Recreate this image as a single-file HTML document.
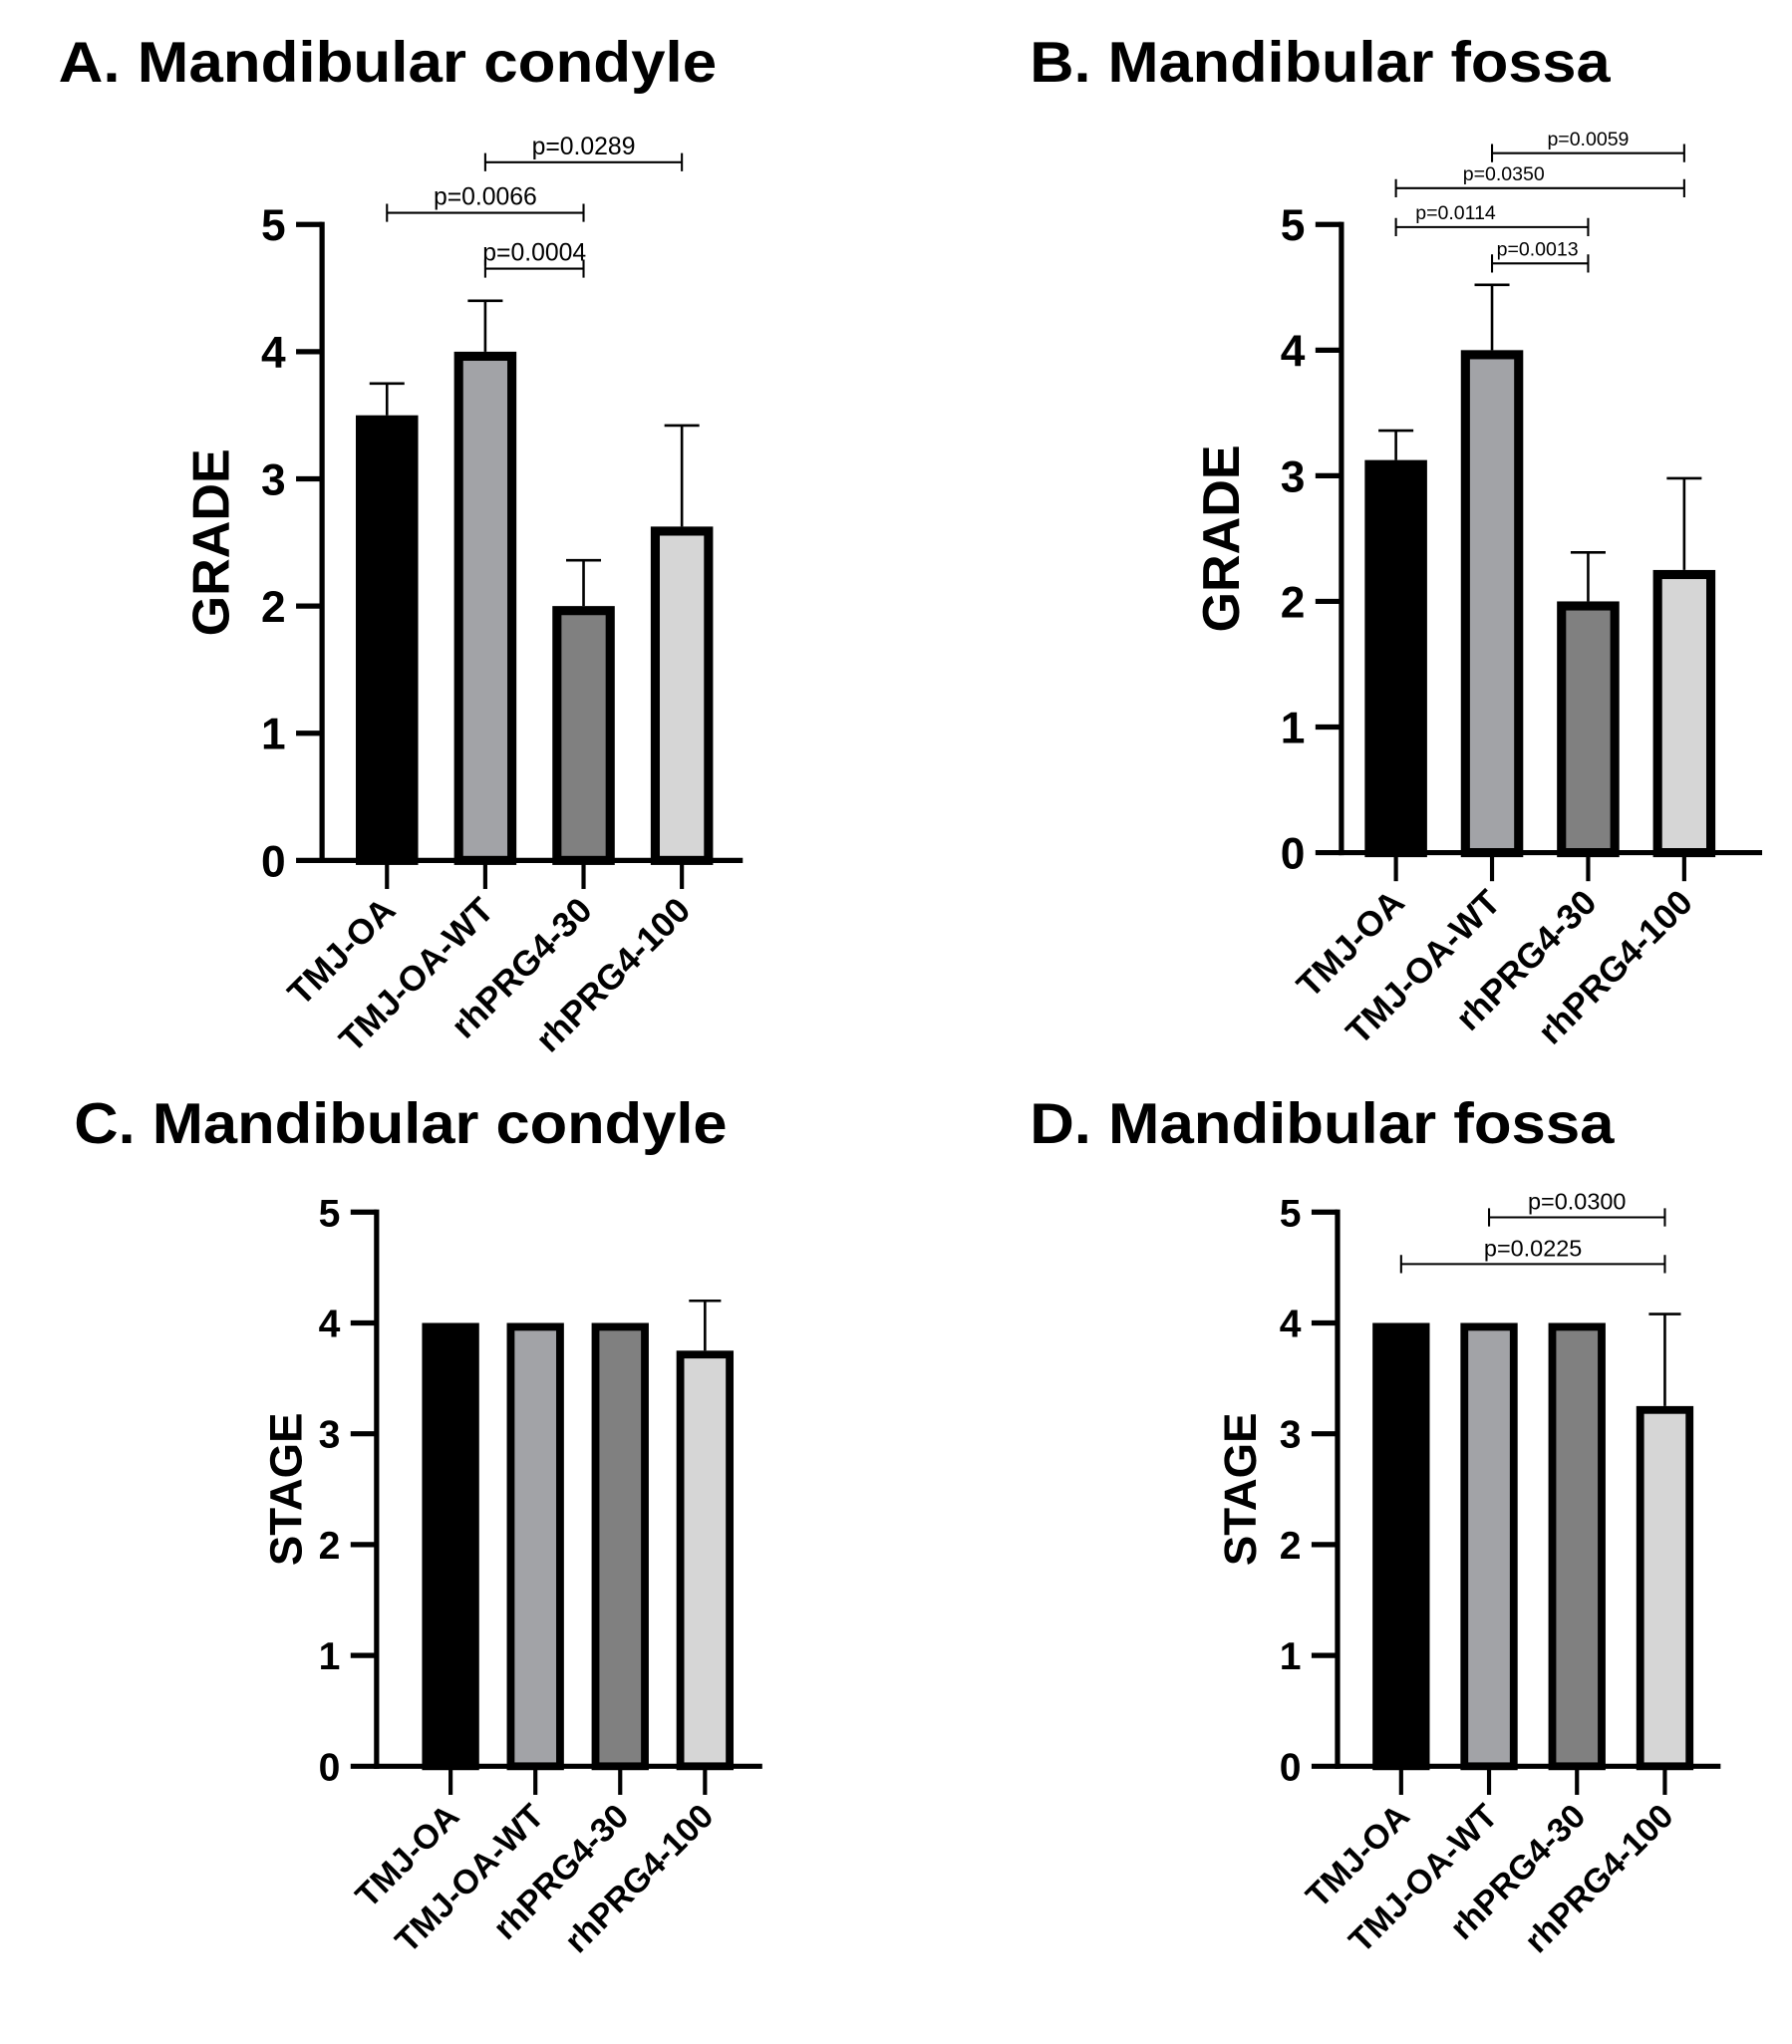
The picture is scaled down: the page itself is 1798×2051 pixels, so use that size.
<!DOCTYPE html>
<html><head><meta charset="utf-8">
<style>
html,body{margin:0;padding:0;background:#fff;}
svg{display:block;}
text{font-family:"Liberation Sans",sans-serif;}
</style></head>
<body>
<svg id="fig" width="1798" height="2051" viewBox="0 0 1380 1575" preserveAspectRatio="none" xmlns="http://www.w3.org/2000/svg">
<rect width="1380" height="1575" fill="#fff"/>
</svg>
<script>
const categories = ["TMJ-OA","TMJ-OA-WT","rhPRG4-30","rhPRG4-100"];
const colors = ["#000000","#a2a3a7","#808080","#d6d6d6"];
const yTicks = [0,1,2,3,4,5];
const gradeCondyleMeans = [3.5,4.0,2.0,2.625];
const gradeCondyleErr = [3.75,4.4,2.36,3.42];
const gradeFossaMeans = [3.125,4.0,2.0,2.25];
const gradeFossaErr = [3.36,4.52,2.39,2.98];
const stageCondyleMeans = [4,4,4,3.75];
const stageCondyleErr = [4,4,4,4.2];
const stageFossaMeans = [4,4,4,3.25];
const stageFossaErr = [4,4,4,4.08];
const pLabelsA = ["p=0.0289","p=0.0066","p=0.0004"];
const pPairsA = [[1,3],[0,2],[1,2]];
const pLabelsB = ["p=0.0059","p=0.0350","p=0.0114","p=0.0013"];
const pPairsB = [[1,3],[0,3],[0,2],[1,2]];
const pLabelsD = ["p=0.0300","p=0.0225"];
const pPairsD = [[1,3],[0,3]];

const NS="http://www.w3.org/2000/svg";
const svg=document.getElementById('fig');
function el(tag,attrs,parent){const e=document.createElementNS(NS,tag);for(const k in attrs)e.setAttribute(k,attrs[k]);(parent||svg).appendChild(e);return e;}

function panel(cfg){
  const g=el('g',{});
  
  
  const t=el('text',{x:cfg.titleX,y:cfg.titleY,'font-size':44,'font-weight':'bold',textLength:cfg.titleW,lengthAdjust:'spacingAndGlyphs'},g);
  t.textContent=cfg.title;
  
  
  const y=v=>cfg.y0-(cfg.y0-cfg.y5)*v/5;
  const x=i=>cfg.xc0+i*cfg.step;
  cfg.means.forEach((m,i)=>{
    const e=cfg.errs[i];
    if(e>m+0.01){
      const l=el('line',{x1:x(i),x2:x(i),y1:y(m),y2:y(e),stroke:'#000','stroke-width':2},g);
      
      
      const c=el('line',{x1:x(i)-cfg.bw*0.28,x2:x(i)+cfg.bw*0.28,y1:y(e),y2:y(e),stroke:'#000','stroke-width':2},g);
      
      
    }
    const sw=cfg.sw;
    const r=el('rect',{x:x(i)-cfg.bw/2+sw/2,y:y(m)+sw/2,width:cfg.bw-sw,height:y(0)-y(m)-sw/2,fill:colors[i],stroke:'#000','stroke-width':sw},g);
    
    
  });
  const ya=el('line',{x1:cfg.ax,x2:cfg.ax,y1:cfg.y5-2,y2:cfg.y0+2,stroke:'#000','stroke-width':cfg.axw},g);
  
  
  const xa=el('line',{x1:cfg.ax-cfg.axw/2,x2:cfg.xEnd,y1:cfg.y0,y2:cfg.y0,stroke:'#000','stroke-width':cfg.axw},g);
  
  
  yTicks.forEach(v=>{
    const tk=el('line',{x1:cfg.ax-20,x2:cfg.ax,y1:y(v),y2:y(v),stroke:'#000','stroke-width':cfg.axw},g);
    
    
    const tl=el('text',{x:cfg.ax-28,y:y(v)+cfg.tfs*0.36,'font-size':cfg.tfs,'font-weight':'bold','text-anchor':'end'},g);
    tl.textContent=v;
    
    
  });
  categories.forEach((c,i)=>{
    const tk=el('line',{x1:x(i),x2:x(i),y1:cfg.y0,y2:cfg.y0+22,stroke:'#000','stroke-width':cfg.axw*0.8},g);
    
    
    const tl=el('text',{x:x(i)+8,y:cfg.y0+40,'font-size':cfg.cfs,'font-weight':'bold','text-anchor':'end',transform:`rotate(-45 ${x(i)+8} ${cfg.y0+40})`},g);
    tl.textContent=c;
    
    
  });
  const yl=el('text',{x:0,y:0,'font-size':cfg.yfs,'font-weight':'bold','text-anchor':'middle',transform:`translate(${cfg.ylx} ${(cfg.y0+cfg.y5)/2}) rotate(-90)`},g);
  yl.textContent=cfg.ylabel;
  
  
  cfg.pLabels.forEach((p,k)=>{
    const [a,b]=cfg.pPairs[k]; const by=cfg.pY[k];
    const bl=el('path',{d:`M${x(a)} ${by-7}V${by+7}M${x(a)} ${by}H${x(b)}M${x(b)} ${by-7}V${by+7}`,stroke:'#000','stroke-width':1.6,fill:'none'},g);
    
    
    const pt=el('text',{x:(x(a)+x(b))/2+cfg.pdx[k],y:by-6,'font-size':cfg.pfs,'text-anchor':'middle'},g);
    pt.textContent=p;
    
    
  });
}

panel({name:'panel-a-grade-condyle',title:'A. Mandibular condyle',titleX:45,titleY:63,titleW:507,ax:248,y0:663,y5:173,xEnd:572,xc0:298,step:75.7,bw:48,sw:7,axw:4,tfs:34,cfs:27,yfs:40,ylx:176,ylabel:'GRADE',means:gradeCondyleMeans,errs:gradeCondyleErr,pLabels:pLabelsA,pPairs:pPairsA,pY:[125,164,207],pdx:[0,0,0],pfs:19,italic:false});
panel({name:'panel-b-grade-fossa',title:'B. Mandibular fossa',titleX:793,titleY:63,titleW:447,ax:1033,y0:657,y5:173,xEnd:1357,xc0:1075,step:74,bw:48,sw:7,axw:4,tfs:34,cfs:27,yfs:40,ylx:954,ylabel:'GRADE',means:gradeFossaMeans,errs:gradeFossaErr,pLabels:pLabelsB,pPairs:pPairsB,pY:[118,145,175,203],pdx:[0,-28,-28,-2],pfs:15,italic:false});
panel({name:'panel-c-stage-condyle',title:'C. Mandibular condyle',titleX:57,titleY:881,titleW:503,ax:290,y0:1361,y5:934,xEnd:587,xc0:347,step:65.3,bw:44,sw:6,axw:4,tfs:30,cfs:26,yfs:35,ylx:232,ylabel:'STAGE',means:stageCondyleMeans,errs:stageCondyleErr,pLabels:[],pPairs:[],pY:[],pdx:[],pfs:16,italic:false});
panel({name:'panel-d-stage-fossa',title:'D. Mandibular fossa',titleX:793,titleY:881,titleW:450,ax:1030,y0:1361,y5:934,xEnd:1325,xc0:1079,step:67.7,bw:44,sw:6,axw:4,tfs:30,cfs:26,yfs:35,ylx:967,ylabel:'STAGE',means:stageFossaMeans,errs:stageFossaErr,pLabels:pLabelsD,pPairs:pPairsD,pY:[938,974],pdx:[0,0],pfs:18,italic:false});
</script>
</body></html>
